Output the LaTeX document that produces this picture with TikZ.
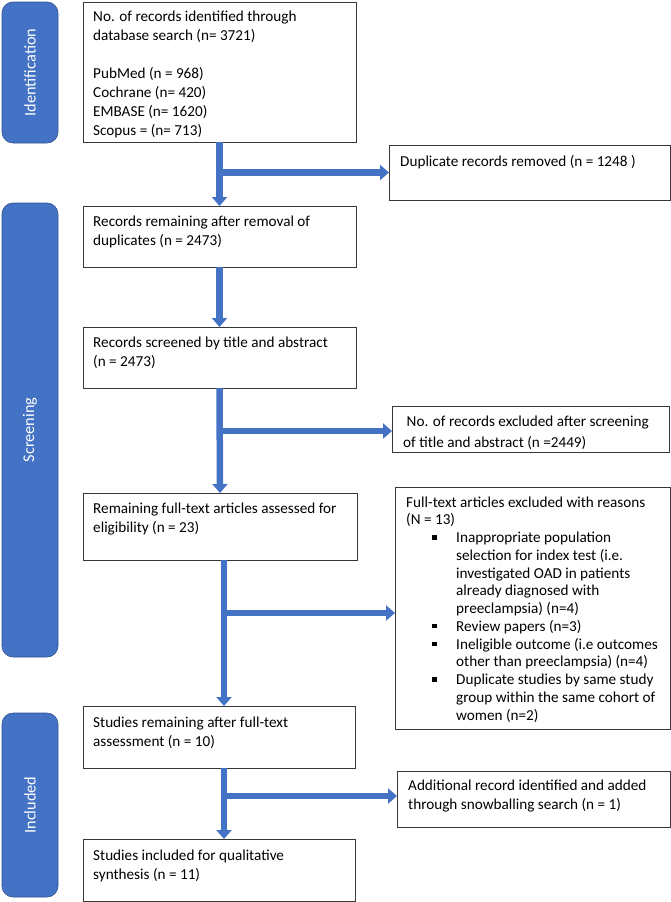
\documentclass[tikz,border=0pt]{standalone}
\usepackage{fontspec}
\setmainfont{Carlito}
\usetikzlibrary{arrows.meta}
\definecolor{obl}{HTML}{4472C4}
\definecolor{obd}{HTML}{2F528F}
\newcommand{\bsq}{\makebox[24pt][l]{\rule[3pt]{4.5pt}{4.5pt}}}
\newcommand{\fl}[1]{\rule{0pt}{#1}}
\begin{document}
\begin{tikzpicture}[x=1pt,y=-1pt,
  box/.style={draw=black!78, line width=0.9pt, rectangle, inner sep=0pt, outer sep=0pt, anchor=north west},
  bar/.style={fill=obl, draw=obd, line width=0.6pt, rounded corners=11pt, rectangle, inner sep=0pt, outer sep=0pt, anchor=north west},
  bartext/.style={text=white, font=\fontsize{16.3}{19}\selectfont, rotate=90, inner sep=0pt},
  txt/.style={anchor=north west, align=left, inner sep=0pt, font=\fontsize{15.2}{19}\selectfont},
  flow/.style={draw=obl, line width=6.5pt, -{Triangle[width=15pt,length=9pt]}}
]
\useasboundingbox (0,0) rectangle (671,902);
% phase bars
\node[bar, minimum width=56pt, minimum height=141pt] (Id) at (2,2) {};
\node[bartext] (Idt) at (Id.center) {Identification};
\node[bar, minimum width=56pt, minimum height=454pt] (Sc) at (2,203) {};
\node[bartext] (Sct) at (Sc.center) {Screening};
\node[bar, minimum width=56pt, minimum height=184pt] (In) at (2,713) {};
\node[bartext] (Int) at (In.center) {Included};
% boxes
\node[box, minimum width=273pt, minimum height=140pt] (B1) at (83,2) {};
\node[box, minimum width=281pt, minimum height=55pt] (Dup) at (389,145) {};
\node[box, minimum width=273pt, minimum height=61pt] (B2) at (83,206) {};
\node[box, minimum width=273pt, minimum height=61pt] (B3) at (83,327) {};
\node[box, minimum width=277pt, minimum height=46pt] (Ex1) at (392,406) {};
\node[box, minimum width=274pt, minimum height=67pt] (B4) at (83,493) {};
\node[box, minimum width=275pt, minimum height=242pt] (Ex2) at (395,487) {};
\node[box, minimum width=272pt, minimum height=62pt] (B5) at (83,706) {};
\node[box, minimum width=273pt, minimum height=56pt] (Add) at (397,771) {};
\node[box, minimum width=272pt, minimum height=62pt] (B6) at (83,839) {};
% texts
\node[txt] (B1t) at ([xshift=10pt]B1.north west) {\fl{19pt}No. of records identified through\\database search (n= 3721)\\[19pt]PubMed (n = 968)\\Cochrane (n= 420)\\EMBASE (n= 1620)\\Scopus = (n= 713)};
\node[txt] (Dupt) at ([xshift=11pt]Dup.north west) {\fl{21pt}Duplicate records removed (n = 1248 )};
\node[txt] (B2t) at ([xshift=10pt]B2.north west) {\fl{20pt}Records remaining after removal of\\duplicates (n = 2473)};
\node[txt] (B3t) at ([xshift=10pt]B3.north west) {\fl{20pt}Records screened by title and abstract\\(n = 2473)};
\node[txt, font=\fontsize{15.2}{21.5}\selectfont] (Ex1t) at ([xshift=11pt]Ex1.north west) {\fl{20pt}\hspace*{3.5pt}No. of records excluded after screening\\of title and abstract (n =2449)};
\node[txt] (B4t) at ([xshift=10pt]B4.north west) {\fl{20pt}Remaining full-text articles assessed for\\eligibility (n = 23)};
\node[txt, font=\fontsize{15.2}{17.75}\selectfont] (Ex2t) at ([xshift=11pt]Ex2.north west) {\fl{20pt}Full-text articles excluded with reasons\\(N = 13)\\
\hspace*{26pt}\bsq Inappropriate population\\
\hspace*{50pt}selection for index test (i.e.\\
\hspace*{50pt}investigated OAD in patients\\
\hspace*{50pt}already diagnosed with\\
\hspace*{50pt}preeclampsia) (n=4)\\
\hspace*{26pt}\bsq Review papers (n=3)\\
\hspace*{26pt}\bsq Ineligible outcome (i.e outcomes\\
\hspace*{50pt}other than preeclampsia) (n=4)\\
\hspace*{26pt}\bsq Duplicate studies by same study\\
\hspace*{50pt}group within the same cohort of\\
\hspace*{50pt}women (n=2)};
\node[txt] (B5t) at ([xshift=10pt]B5.north west) {\fl{21pt}Studies remaining after full-text\\assessment (n = 10)};
\node[txt] (Addt) at ([xshift=11pt]Add.north west) {\fl{19pt}Additional record identified and added\\through snowballing search (n = 1)};
\node[txt] (B6t) at ([xshift=10pt]B6.north west) {\fl{21pt}Studies included for qualitative\\synthesis (n = 11)};
% connectors
\coordinate (s4) at ([xshift=4pt]B4.south);
\coordinate (s5) at ([xshift=5pt]B5.south);
\draw[flow] (B1.south |- Dup.west) -- (Dup.west);
\draw[flow] (B1.south) -- (B2.north);
\draw[flow] (B2.south) -- (B3.north);
\draw[flow] ([yshift=-2pt]B3.south |- Ex1.west) -- ([yshift=-2pt]Ex1.west);
\draw[flow] (B3.south) -- (B4.north);
\draw[flow] ([yshift=-5pt]s4 |- Ex2.west) -- ([yshift=-5pt]Ex2.west);
\draw[flow] (s4) -- (s4 |- B5.north);
\draw[flow] ([yshift=3pt]s5 |- Add.west) -- ([yshift=3pt]Add.west);
\draw[flow] (s5) -- (s5 |- B6.north);
\end{tikzpicture}
\end{document}
